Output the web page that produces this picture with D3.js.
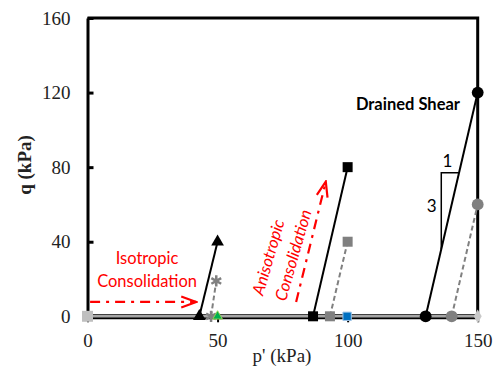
<!DOCTYPE html>
<html>
<head>
<meta charset="utf-8">
<script src="https://cdn.jsdelivr.net/npm/d3@7"></script>
<style>
  body { margin: 0; background: #fff; }
  svg { display: block; }
</style>
</head>
<body>
<svg id="drawing_region"></svg>
<script>
// stress paths, p' (kPa) and q (kPa)
const baseP = [0, 150];
const baseQ = [0, 0];
const isoTriP = [43, 50];
const isoTriQ = [0, 40];
const isoStarP = [47.5, 49.5];
const isoStarQ = [0, 19];
const greenP = [50];
const greenQ = [0];
const anisoSqP = [86.7, 100];
const anisoSqQ = [0, 80];
const anisoGraySqP = [93.2, 100];
const anisoGraySqQ = [0, 40];
const blueP = [99.8];
const blueQ = [0];
const shearCircP = [130, 150];
const shearCircQ = [0, 120];
const shearGrayP = [140, 150];
const shearGrayQ = [0, 60];
const diamondP = [150];
const diamondQ = [0];
const originP = [0];
const originQ = [0];

const xTicks = [0, 50, 100, 150];
const yTicks = [0, 40, 80, 120, 160];

// annotation geometry (data units)
const isoArrow = [[1, 7.7], [41.8, 7.7]];
const anisoArrow = [[80.2, 7.7], [91.6, 72.2]];
const slopeTri = [[136, 36], [136, 77], [142.8, 77]];

const width = 497, height = 378;
const margin = { top: 18, right: 19.3, bottom: 61.7, left: 87.5 };
const innerW = width - margin.left - margin.right;
const innerH = height - margin.top - margin.bottom;

const svg = d3.select("#drawing_region").attr("width", width).attr("height", height);

const defs = svg.append("defs");
defs.append("marker")
  .attr("id", "chev")
  .attr("markerUnits", "userSpaceOnUse")
  .attr("markerWidth", 18).attr("markerHeight", 14)
  .attr("viewBox", "-1 -1 18 14")
  .attr("refX", 15).attr("refY", 6)
  .attr("orient", "auto")
  .append("path")
  .attr("d", "M0,0.5 L15,6 L0,11.5")
  .attr("fill", "none")
  .attr("stroke", "#ff0000")
  .attr("stroke-width", 2.2);

const chart = svg.append("g").attr("transform", `translate(${margin.left}, ${margin.top})`);

const x = d3.scaleLinear().domain([0, 150]).range([0, innerW]);
const y = d3.scaleLinear().domain([0, 160]).range([innerH, 0]);

// axes
const xAxis = d3.axisBottom(x).tickValues(xTicks).tickSize(6).tickSizeOuter(0).tickPadding(11);
const yAxis = d3.axisLeft(y).tickValues(yTicks).tickSize(-6).tickSizeOuter(0).tickPadding(17);

const xg = chart.append("g").attr("transform", `translate(0, ${innerH})`).call(xAxis);
xg.select(".domain").attr("stroke", "#000").attr("stroke-width", 5);
xg.selectAll(".tick line").attr("stroke", "#000").attr("stroke-width", 2);
xg.selectAll(".tick text")
  .attr("font-family", "Liberation Serif, Times New Roman, serif")
  .attr("font-size", 19).attr("fill", "#222");

const yg = chart.append("g").call(yAxis);
yg.select(".domain").attr("stroke", "#000").attr("stroke-width", 3);
yg.selectAll(".tick line").attr("stroke", "#000").attr("stroke-width", 3);
yg.selectAll(".tick text")
  .attr("font-family", "Liberation Serif, Times New Roman, serif")
  .attr("font-size", 19).attr("fill", "#222");

// frame top and right
chart.append("path")
  .attr("d", `M0,${y(160)} H${x(150)} V${y(0)}`)
  .attr("fill", "none").attr("stroke", "#000").attr("stroke-width", 3);

// axis titles
svg.append("text")
  .attr("x", 282).attr("y", 362)
  .attr("text-anchor", "middle")
  .attr("font-family", "Liberation Serif, Times New Roman, serif")
  .attr("font-size", 19).attr("fill", "#222")
  .text("p' (kPa)");
svg.append("text")
  .attr("transform", "translate(31, 165) rotate(-90)")
  .attr("text-anchor", "middle")
  .attr("font-family", "Liberation Serif, Times New Roman, serif")
  .attr("font-weight", "bold")
  .attr("font-size", 19).attr("fill", "#222")
  .text("q (kPa)");

const line = d3.line().x((d) => x(d[0])).y((d) => y(d[1]));
const zip = (ps, qs) => ps.map((p, i) => [p, qs[i]]);

// gray line along q = 0
chart.append("path")
  .attr("d", line(zip(baseP, baseQ)))
  .attr("stroke", "#a6a6a6").attr("stroke-width", 2.6).attr("fill", "none");

const series = [
  { p: isoTriP, q: isoTriQ, stroke: "#000", dash: null, sym: d3.symbolTriangle, size: 70, fill: "#000" },
  { p: isoStarP, q: isoStarQ, stroke: "#808080", dash: "5,3", sym: d3.symbolAsterisk, size: 90, fill: "none", symStroke: "#808080" },
  { p: greenP, q: greenQ, stroke: null, sym: d3.symbolTriangle, size: 40, fill: "#00b050", symStroke: "#92d050" },
  { p: anisoSqP, q: anisoSqQ, stroke: "#000", dash: null, sym: d3.symbolSquare, size: 100, fill: "#000" },
  { p: anisoGraySqP, q: anisoGraySqQ, stroke: "#808080", dash: "5,3", sym: d3.symbolSquare, size: 100, fill: "#808080" },
  { p: blueP, q: blueQ, stroke: null, sym: d3.symbolSquare, size: 70, fill: "#0070c0", symStroke: "#9dc3e6" },
  { p: shearCircP, q: shearCircQ, stroke: "#000", dash: null, sym: d3.symbolCircle, size: 110, fill: "#000" },
  { p: shearGrayP, q: shearGrayQ, stroke: "#808080", dash: "5,3", sym: d3.symbolCircle, size: 110, fill: "#808080" },
  { p: diamondP, q: diamondQ, stroke: null, sym: d3.symbolDiamond, size: 55, fill: "#c8c8c8" },
  { p: originP, q: originQ, stroke: null, sym: d3.symbolSquare, size: 120, fill: "#bfbfbf" },
];

series.forEach((s) => {
  const pts = zip(s.p, s.q);
  if (s.stroke && pts.length > 1) {
    chart.append("path")
      .attr("d", line(pts))
      .attr("fill", "none")
      .attr("stroke", s.stroke)
      .attr("stroke-width", 2)
      .attr("stroke-dasharray", s.dash);
  }
  chart.selectAll(null)
    .data(pts)
    .join("path")
    .attr("transform", (d) => `translate(${x(d[0])}, ${y(d[1])})`)
    .attr("d", d3.symbol(s.sym, s.size))
    .attr("fill", s.fill)
    .attr("stroke", s.symStroke || "none")
    .attr("stroke-width", s.sym === d3.symbolAsterisk ? 2.5 : 1);
});

// slope triangle
chart.append("path")
  .attr("d", line(slopeTri))
  .attr("fill", "none").attr("stroke", "#000").attr("stroke-width", 1.5);

const sans = "Lato, Carlito, Calibri, sans-serif";
chart.append("text").attr("x", x(143.2)).attr("y", y(110.8))
  .attr("text-anchor", "end").attr("font-family", sans)
  .attr("font-weight", "bold").attr("font-size", 16.5).text("Drained Shear");
chart.append("text").attr("x", x(138.4)).attr("y", y(80))
  .attr("text-anchor", "middle").attr("font-family", sans)
  .attr("font-size", 17).text("1");
chart.append("text").attr("x", x(132.3)).attr("y", y(56))
  .attr("text-anchor", "middle").attr("font-family", sans)
  .attr("font-size", 17).text("3");

// consolidation arrows and labels
[isoArrow, anisoArrow].forEach((a) => {
  chart.append("path")
    .attr("d", line(a))
    .attr("fill", "none")
    .attr("stroke", "#ff0000").attr("stroke-width", 2.2)
    .attr("stroke-dasharray", "10,6,3,6")
    .attr("marker-end", "url(#chev)");
});

chart.append("text").attr("x", x(22.9)).attr("y", y(28))
  .attr("text-anchor", "middle").attr("font-family", sans)
  .attr("font-size", 16.5).attr("fill", "#ff0000").text("Isotropic");
chart.append("text").attr("x", x(22.9)).attr("y", y(15.7))
  .attr("text-anchor", "middle").attr("font-family", sans)
  .attr("font-size", 16.5).attr("fill", "#ff0000").text("Consolidation");

chart.append("text")
  .attr("transform", `translate(${x(69.4)}, ${y(31.7)}) rotate(-74)`)
  .attr("text-anchor", "middle").attr("dominant-baseline", "central")
  .attr("font-family", sans).attr("font-style", "italic")
  .attr("font-size", 16.5).attr("fill", "#ff0000").text("Anisotropic");
chart.append("text")
  .attr("transform", `translate(${x(79)}, ${y(32.8)}) rotate(-74)`)
  .attr("text-anchor", "middle").attr("dominant-baseline", "central")
  .attr("font-family", sans).attr("font-style", "italic")
  .attr("font-size", 16.5).attr("fill", "#ff0000").text("Consolidation");
</script>
</body>
</html>
